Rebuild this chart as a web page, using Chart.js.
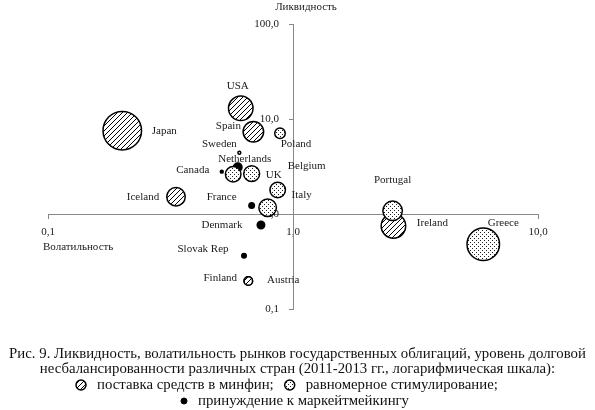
<!DOCTYPE html>
<html>
<head>
<meta charset="utf-8">
<script src="https://cdn.jsdelivr.net/npm/chart.js@4.4.0/dist/chart.umd.min.js"></script>
<style>
  html, body { margin: 0; padding: 0; background: #fff; }
  #wrap { width: 595px; height: 410px; }
</style>
</head>
<body>
<div id="wrap"><canvas id="chart" width="595" height="410"></canvas></div>
<script>
// values (log-log chart)
const countries  = ['Japan', 'USA', 'Spain', 'Iceland', 'Ireland', 'Finland', 'Austria',
                    'Poland', 'Sweden', '', 'Belgium', 'UK', 'Italy', 'Portugal', 'Greece',
                    'Netherlands', 'Canada', 'France', 'Denmark', 'Slovak Rep'];
const volatility = [0.201, 0.612, 0.689, 0.333, 2.57, 0.657, 0.657,
                    0.885, 0.604, 0.570, 0.678, 0.866, 0.788, 2.55, 5.98,
                    0.595, 0.512, 0.678, 0.740, 0.631];
const liquidity  = [7.53, 12.96, 7.35, 1.52, 0.748, 0.197, 0.197,
                    7.07, 4.42, 2.62, 2.66, 1.79, 1.165, 1.08, 0.48,
                    3.10, 2.79, 1.23, 0.766, 0.364];
// debt imbalance shown as bubble size
const imbalance  = [20, 13, 11, 10, 13, 5, 5,
                    6, 2.2, 8.5, 8.7, 8.5, 9.5, 10.5, 17,
                    5, 2.2, 3.5, 4.5, 3];
// 0 - поставка средств в минфин, 1 - равномерное стимулирование, 2 - принуждение к маркейтмейкингу
const strategy   = [0, 0, 0, 0, 0, 0, 0,
                    1, 1, 1, 1, 1, 1, 1, 1,
                    2, 2, 2, 2, 2];
const strategyNames = ['поставка средств в минфин;', 'равномерное стимулирование;', 'принуждение к маркейтмейкингу'];

const xTicks = [0.1, 1, 10];
const xTickLabels = ['0,1', '1,0', '10,0'];
const yTicks = [0.1, 1, 10, 100];
const yTickLabels = ['0,1', '1,0', '10,0', '100,0'];

const captionLines = [
  'Рис. 9. Ликвидность, волатильность рынков государственных облигаций, уровень долговой',
  'несбалансированности различных стран (2011-2013 гг., логарифмическая шкала):'
];

// where each name sits relative to its bubble (px)
const labelOffsets = {
  'Japan': [42, 0], 'USA': [-3, -22], 'Spain': [-25, -6], 'Iceland': [-33, 0],
  'Ireland': [39, -3], 'Finland': [-28, -3], 'Austria': [35, -1],
  'Poland': [16, 11], 'Sweden': [-20, -9], 'Belgium': [55, -8], 'UK': [-4, -15],
  'Italy': [34, -13], 'Portugal': [0, -31], 'Greece': [20, -21],
  'Netherlands': [7, -8], 'Canada': [-29, -2], 'France': [-30, -8],
  'Denmark': [-39, 0], 'Slovak Rep': [-41, -7]
};

const SERIF = '"Liberation Serif", "Times New Roman", serif';
const BORDER = 1.5;

function makeHatch() {
  const c = document.createElement('canvas');
  c.width = 5; c.height = 5;
  const g = c.getContext('2d');
  g.fillStyle = '#fff';
  g.fillRect(0, 0, 5, 5);
  g.strokeStyle = '#000';
  g.lineWidth = 1;
  g.beginPath();
  g.moveTo(-1, 6); g.lineTo(6, -1);
  g.moveTo(-1, 1); g.lineTo(1, -1);
  g.moveTo(4, 6); g.lineTo(6, 4);
  g.stroke();
  return g.createPattern(c, 'repeat');
}

function makeDots() {
  const c = document.createElement('canvas');
  c.width = 4; c.height = 4;
  const g = c.getContext('2d');
  g.fillStyle = '#fff';
  g.fillRect(0, 0, 4, 4);
  g.fillStyle = '#222';
  g.fillRect(0, 0, 1, 1);
  g.fillRect(2, 2, 1, 1);
  return g.createPattern(c, 'repeat');
}

const fills = [makeHatch(), makeDots(), '#000'];

function buildDataset(group) {
  const idx = countries.map((c, i) => i).filter(i => strategy[i] === group);
  return {
    label: strategyNames[group],
    names: idx.map(i => countries[i]),
    data: idx.map(i => ({ x: volatility[i], y: liquidity[i], r: imbalance[i] - BORDER / 2 })),
    backgroundColor: fills[group],
    borderColor: '#000',
    borderWidth: BORDER,
    hoverBorderWidth: BORDER
  };
}

function drawIcon(ctx, group, x, y, r) {
  ctx.beginPath();
  ctx.arc(x, y, r, 0, Math.PI * 2);
  ctx.fillStyle = fills[group];
  ctx.fill();
  ctx.lineWidth = group === 2 ? 1 : 1.5;
  ctx.strokeStyle = '#000';
  ctx.stroke();
}

// y labels of a centred axis sit on the line in Chart.js, so set them off by hand (under the bubbles)
const yLabelPlugin = {
  id: 'yLabels',
  beforeDatasetsDraw(chart) {
    const ctx = chart.ctx, ys = chart.scales.y;
    const ox = chart.scales.x.getPixelForValue(1);
    ctx.save();
    ctx.font = '11px ' + SERIF;
    ctx.fillStyle = '#1a1a1a';
    ctx.textAlign = 'right';
    ctx.textBaseline = 'middle';
    ys.ticks.forEach((t, i) => {
      ctx.fillText(yTickLabels[i], ox - 14, ys.getPixelForValue(t.value));
    });
    ctx.restore();
  }
};

const labelPlugin = {
  id: 'countryLabels',
  afterDatasetsDraw(chart) {
    const ctx = chart.ctx;
    ctx.save();
    ctx.font = '11px ' + SERIF;
    ctx.fillStyle = '#1a1a1a';
    ctx.textAlign = 'center';
    ctx.textBaseline = 'middle';
    chart.data.datasets.forEach((ds, i) => {
      chart.getDatasetMeta(i).data.forEach((el, j) => {
        const name = ds.names[j];
        const off = labelOffsets[name];
        if (!name || !off) return;
        ctx.fillText(name, el.x + off[0], el.y + off[1]);
      });
    });

    // axis titles
    const xs = chart.scales.x, ys = chart.scales.y;
    const ox = xs.getPixelForValue(1), oy = ys.getPixelForValue(1);
    ctx.fillText('Ликвидность', ox + 13, chart.chartArea.top - 17);
    ctx.textAlign = 'left';
    ctx.fillText('Волатильность', chart.chartArea.left - 5, oy + 33);
    ctx.restore();
  }
};

const captionPlugin = {
  id: 'caption',
  afterDraw(chart) {
    const ctx = chart.ctx;
    ctx.save();
    ctx.font = '14.8px ' + SERIF;
    ctx.fillStyle = '#111';
    ctx.textBaseline = 'middle';
    ctx.textAlign = 'center';
    ctx.fillText(captionLines[0], 297.5, 354);
    ctx.fillText(captionLines[1], 297.5, 369.5);

    ctx.textAlign = 'left';
    let x = 81;
    drawIcon(ctx, 0, x, 385, 5);
    x += 16;
    ctx.fillStyle = '#111';
    ctx.fillText(strategyNames[0], x, 385);
    x += ctx.measureText(strategyNames[0]).width + 16;
    drawIcon(ctx, 1, x, 385, 5);
    x += 16;
    ctx.fillStyle = '#111';
    ctx.fillText(strategyNames[1], x, 385);

    drawIcon(ctx, 2, 184, 401, 3);
    ctx.fillStyle = '#111';
    ctx.fillText(strategyNames[2], 198, 401);
    ctx.restore();
  }
};

new Chart(document.getElementById('chart'), {
  type: 'bubble',
  // dotted bubbles on top, hatched at the bottom
  data: { datasets: [buildDataset(1), buildDataset(2), buildDataset(0)] },
  options: {
    responsive: false,
    animation: false,
    events: [],
    layout: { padding: { left: 48, right: 57, top: 24, bottom: 101 } },
    plugins: {
      legend: { display: false },
      tooltip: { enabled: false }
    },
    scales: {
      x: {
        type: 'logarithmic',
        position: { y: 1 },
        min: 0.1,
        max: 10,
        afterBuildTicks: s => { s.ticks = xTicks.map(v => ({ value: v })); },
        ticks: {
          autoSkip: false,
          maxRotation: 0,
          padding: 8,
          color: '#1a1a1a',
          font: { family: SERIF, size: 11 },
          callback: (v, i) => xTickLabels[i]
        },
        grid: { drawOnChartArea: false, drawTicks: true, tickLength: 4, color: '#888' },
        border: { color: '#888', width: 1 }
      },
      y: {
        type: 'logarithmic',
        position: { x: 1 },
        min: 0.1,
        max: 100,
        afterBuildTicks: s => { s.ticks = yTicks.map(v => ({ value: v })); },
        ticks: { display: false, autoSkip: false },
        grid: { drawOnChartArea: false, drawTicks: true, tickLength: 4, color: '#888' },
        border: { color: '#888', width: 1 }
      }
    }
  },
  plugins: [yLabelPlugin, labelPlugin, captionPlugin]
});
</script>
</body>
</html>
